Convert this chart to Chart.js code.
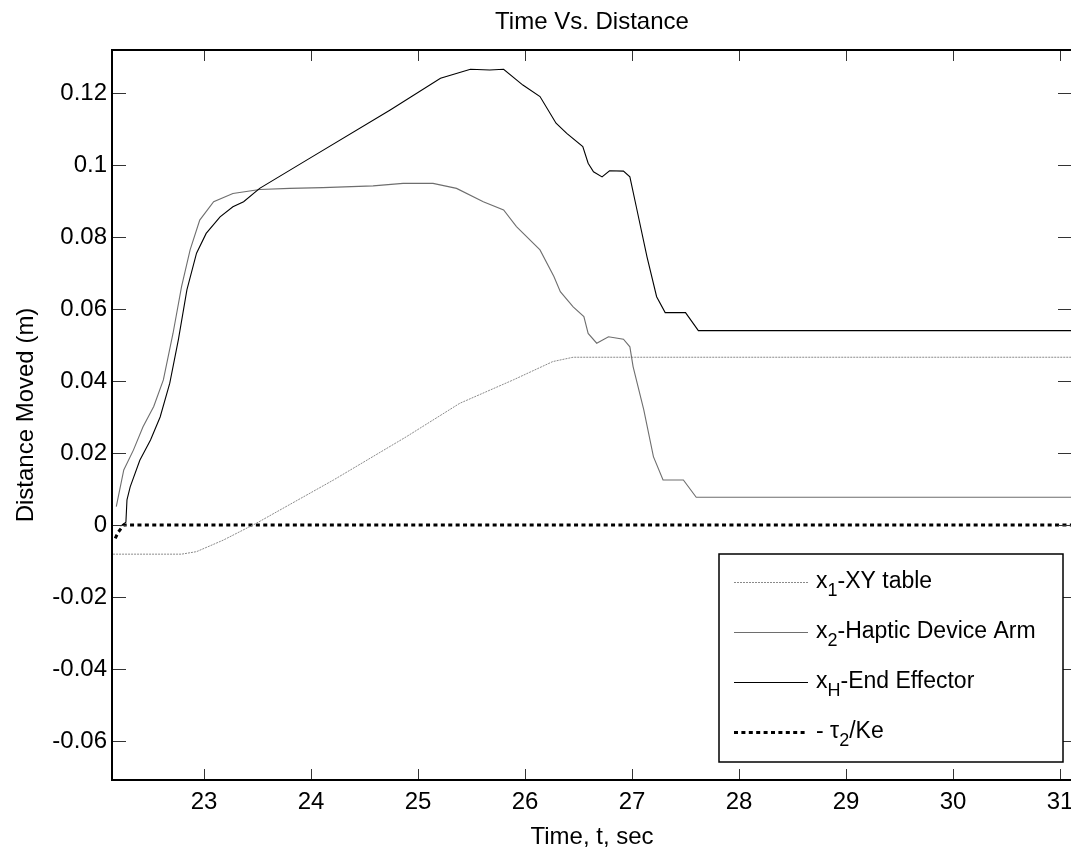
<!DOCTYPE html>
<html>
<head>
<meta charset="utf-8">
<script src="https://cdn.jsdelivr.net/npm/chart.js@4.4.1/dist/chart.umd.min.js"></script>
<style>
html, body { margin: 0; padding: 0; overflow: hidden; background: #fff; }
#wrap { width: 1074px; height: 852px; }
</style>
</head>
<body>
<div id="wrap"><canvas id="myChart" width="1074" height="852"></canvas></div>
<script>
// 数据
const seriesNames = ['x1-XY table', 'x2-Haptic Device Arm', 'xH-End Effector', '- τ2/Ke'];

const tX1 = [22.15, 22.79, 22.93, 23.18, 23.49, 24.21, 24.89, 25.39, 25.89, 26.26, 26.45, 31.12];
const vX1 = [-0.0081, -0.0081, -0.0074, -0.0042, 0.0005, 0.0125, 0.0245, 0.0338, 0.0403, 0.0454, 0.0466, 0.0466];

const tX2 = [22.18, 22.25, 22.34, 22.43, 22.53, 22.62, 22.71, 22.79, 22.87, 22.96, 23.09, 23.27, 23.52, 23.80,
             24.11, 24.58, 24.86, 25.14, 25.36, 25.61, 25.80, 25.92, 26.14, 26.27, 26.33, 26.45, 26.55, 26.59,
             26.67, 26.78, 26.92, 26.98, 27.01, 27.11, 27.20, 27.29, 27.48, 27.60, 31.12];
const vX2 = [0.0051, 0.0153, 0.0208, 0.0273, 0.0329, 0.0403, 0.0532, 0.0662, 0.0764, 0.0847, 0.0898, 0.0921, 0.0932, 0.0935,
             0.0937, 0.0942, 0.0949, 0.0949, 0.0935, 0.0898, 0.0875, 0.0829, 0.0764, 0.0690, 0.0648, 0.0606, 0.0579, 0.0532,
             0.0505, 0.0523, 0.0516, 0.0495, 0.0440, 0.0320, 0.0190, 0.0125, 0.0125, 0.0077, 0.0077];

const tXH = [22.22, 22.27, 22.28, 22.31, 22.40, 22.50, 22.59, 22.68, 22.76, 22.84, 22.93, 23.02, 23.15, 23.27, 23.37,
             23.52, 23.99, 24.74, 25.21, 25.49, 25.67, 25.80, 25.98, 26.14, 26.29, 26.39, 26.54, 26.59, 26.64, 26.72,
             26.79, 26.92, 26.98, 27.04, 27.14, 27.23, 27.31, 27.50, 27.62, 31.12];
const vXH = [-0.0003, 0.0008, 0.0070, 0.0106, 0.0180, 0.0236, 0.0300, 0.0394, 0.0514, 0.0653, 0.0755, 0.0810, 0.0856, 0.0884, 0.0898,
             0.0935, 0.1019, 0.1153, 0.1241, 0.1266, 0.1264, 0.1266, 0.1222, 0.1190, 0.1116, 0.1088, 0.1051, 0.1005, 0.0981, 0.0967,
             0.0984, 0.0983, 0.0967, 0.0884, 0.0745, 0.0634, 0.0590, 0.0590, 0.0540, 0.0540];

const tTau = [22.17, 22.20, 22.25, 31.12];
const vTau = [-0.0037, -0.0019, 0.0, 0.0];

const xTicks = [23, 24, 25, 26, 27, 28, 29, 30, 31];
const xTickLabels = ['23', '24', '25', '26', '27', '28', '29', '30', '31'];
const yTicks = [-0.06, -0.04, -0.02, 0, 0.02, 0.04, 0.06, 0.08, 0.1, 0.12];
const yTickLabels = ['-0.06', '-0.04', '-0.02', '0', '0.02', '0.04', '0.06', '0.08', '0.1', '0.12'];

// 图例的文字（带下标）
const legendMain = ['x', 'x', 'x', '- τ'];
const legendSub = ['1', '2', 'H', '2'];
const legendRest = ['-XY table', '-Haptic Device Arm', '-End Effector', '/Ke'];

const FONT = 'Liberation Sans, Arial, sans-serif';
const ctx = document.getElementById('myChart').getContext('2d');

function pts(t, v) {
    return t.map((ti, i) => ({x: ti, y: v[i]}));
}

const styles = [
    {color: '#8a8a8a', width: 1, dash: [2, 1]},
    {color: '#6e6e6e', width: 1.1, dash: []},
    {color: '#000000', width: 1.1, dash: []},
    {color: '#000000', width: 3, dash: [4, 3.4]}
];

const data = {
    datasets: [
        {label: seriesNames[2], data: pts(tXH, vXH)},
        {label: seriesNames[1], data: pts(tX2, vX2)},
        {label: seriesNames[0], data: pts(tX1, vX1)},
        {label: seriesNames[3], data: pts(tTau, vTau)}
    ]
};
const styleIdx = [2, 1, 0, 3];
data.datasets.forEach(function(ds, i) {
    const s = styles[styleIdx[i]];
    ds.borderColor = s.color;
    ds.borderWidth = s.width;
    ds.borderDash = s.dash;
    ds.pointRadius = 0;
    ds.tension = 0;
    ds.fill = false;
});

// 边框、刻度线、标题、图例
const framePlugin = {
    id: 'frame',
    afterDraw(chart) {
        const c = chart.ctx;
        const a = chart.chartArea;
        const x = chart.scales.x, y = chart.scales.y;
        c.save();
        c.strokeStyle = '#333';
        c.lineWidth = 1;
        c.setLineDash([]);
        c.beginPath();
        xTicks.forEach(function(v) {
            const px = Math.round(x.getPixelForValue(v)) + 0.5;
            c.moveTo(px, a.bottom); c.lineTo(px, a.bottom - 11);
            c.moveTo(px, a.top); c.lineTo(px, a.top + 11);
        });
        yTicks.forEach(function(v) {
            const py = Math.round(y.getPixelForValue(v)) + 0.5;
            c.moveTo(a.left, py); c.lineTo(a.left + 14, py);
            c.moveTo(a.right, py); c.lineTo(a.right - 14, py);
        });
        c.stroke();

        c.strokeStyle = '#000';
        c.lineWidth = 2;
        c.strokeRect(a.left, a.top, a.right - a.left, a.bottom - a.top);

        // 标题
        c.fillStyle = '#000';
        c.font = '24px ' + FONT;
        c.textAlign = 'center';
        c.textBaseline = 'middle';
        c.fillText('Time Vs. Distance', (a.left + a.right) / 2, 22);

        // 图例
        const bx = a.right - 9 - 344, by = a.bottom - 18 - 208;
        c.fillStyle = '#fff';
        c.fillRect(bx, by, 344, 208);
        c.strokeStyle = '#000';
        c.lineWidth = 1.5;
        c.strokeRect(bx, by, 344, 208);
        const rowY = [28, 78, 128, 178];
        rowY.forEach(function(ry, i) {
            const s = styles[i];
            const ly = by + ry;
            c.beginPath();
            c.strokeStyle = s.color;
            c.lineWidth = s.width;
            c.setLineDash(s.dash);
            c.moveTo(bx + 15, ly + 0.5);
            c.lineTo(bx + 89, ly + 0.5);
            c.stroke();
            c.setLineDash([]);
            c.fillStyle = '#000';
            c.textAlign = 'left';
            c.textBaseline = 'alphabetic';
            let tx = bx + 97;
            const base = ly + 6;
            c.font = '23px ' + FONT;
            c.fillText(legendMain[i], tx, base);
            tx += c.measureText(legendMain[i]).width;
            c.font = '18px ' + FONT;
            c.fillText(legendSub[i], tx, base + 8);
            tx += c.measureText(legendSub[i]).width;
            c.font = '23px ' + FONT;
            c.fillText(legendRest[i], tx, base);
        });
        c.restore();
    }
};

const fontSpec = {family: FONT, size: 24, weight: 'normal'};

const options = {
    responsive: false,
    animation: false,
    devicePixelRatio: 1,
    layout: {padding: {top: 50, right: 2, left: 0, bottom: 0}},
    plugins: {
        legend: {display: false},
        title: {display: false},
        tooltip: {enabled: false}
    },
    scales: {
        x: {
            type: 'linear',
            min: 22.14,
            max: 31.112,
            afterBuildTicks: function(s) { s.ticks = xTicks.map(v => ({value: v})); },
            afterFit: function(s) { s.height = 72; s.paddingLeft = 0; s.paddingRight = 0; },
            ticks: {
                callback: function(v, i) { return xTickLabels[i]; },
                font: fontSpec, color: '#000', padding: 8, maxRotation: 0, autoSkip: false
            },
            grid: {display: false, drawTicks: false},
            border: {display: false},
            title: {display: true, text: 'Time, t, sec', font: fontSpec, color: '#000', padding: {top: 0, bottom: 0}}
        },
        y: {
            type: 'linear',
            min: -0.07083,
            max: 0.13194,
            afterBuildTicks: function(s) { s.ticks = yTicks.map(v => ({value: v})); },
            afterFit: function(s) { s.width = 112; s.paddingTop = 0; s.paddingBottom = 0; },
            ticks: {
                callback: function(v, i) { return yTickLabels[i]; },
                font: fontSpec, color: '#000', padding: 5, autoSkip: false
            },
            grid: {display: false, drawTicks: false},
            border: {display: false},
            title: {display: true, text: 'Distance Moved (m)', font: fontSpec, color: '#000', padding: {top: 12, bottom: 0}}
        }
    }
};

const myChart = new Chart(ctx, {
    type: 'line',
    data: data,
    options: options,
    plugins: [framePlugin]
});
</script>
</body>
</html>
